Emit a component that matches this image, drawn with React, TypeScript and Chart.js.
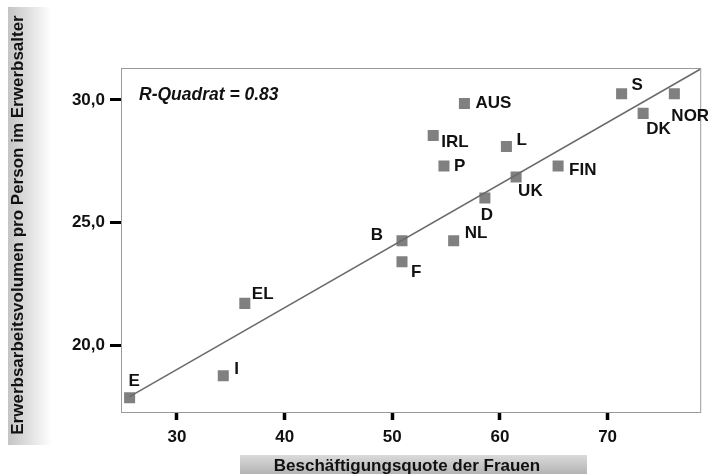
import React, { useEffect, useRef } from "react";
import { Chart, registerables } from "chart.js";

Chart.register(...registerables);

// ---- data ----
const countries = ["E", "I", "EL", "B", "F", "AUS", "IRL", "P", "L", "UK", "D", "NL", "FIN", "S", "DK", "NOR"];
const employmentRateWomen = [25.6, 34.3, 36.3, 50.9, 50.9, 56.7, 53.8, 54.8, 60.6, 61.5, 58.6, 55.7, 65.4, 71.3, 73.3, 76.2];
const workVolumePerPerson = [17.85, 18.75, 21.7, 24.25, 23.4, 29.85, 28.55, 27.3, 28.1, 26.85, 26.0, 24.25, 27.3, 30.25, 29.45, 30.25];
const trendX = [25.6, 78.6];
const trendY = [17.9, 31.25];
const xTickValues = [30, 40, 50, 60, 70];
const yTickValues = [20, 25, 30];
const rSquaredText = "R-Quadrat = 0.83";
const xTitle = "Beschäftigungsquote der Frauen";
const yTitle = "Erwerbsarbeitsvolumen pro Person im Erwerbsalter";

// label placement (dx, dy in px relative to point, text alignment)
const labelPlacement: [number, number, CanvasTextAlign][] = [
  [-1, -16, "left"],
  [11, -6.5, "left"],
  [7, -9, "left"],
  [-19, -6, "right"],
  [9, 11, "left"],
  [11, 0, "left"],
  [8, 7, "left"],
  [10, 0, "left"],
  [10, -6, "left"],
  [2, 14, "left"],
  [2, 17.5, "center"],
  [11, -8, "left"],
  [11, 4, "left"],
  [10, -8, "left"],
  [3, 16, "left"],
  [-3, 23, "left"],
];

const FONT = "'Liberation Sans', Arial, sans-serif";

const decorPlugin = {
  id: "decor",
  beforeDraw(chart: any) {
    const ctx = chart.ctx;
    ctx.save();
    ctx.fillStyle = "#ffffff";
    ctx.fillRect(0, 0, chart.width, chart.height);
    // y title band
    const gy = ctx.createLinearGradient(8, 0, 52, 0);
    gy.addColorStop(0, "#c4c4c4");
    gy.addColorStop(1, "rgba(255,255,255,1)");
    ctx.fillStyle = gy;
    ctx.fillRect(8, 7, 44, 438);
    // x title band
    const gx = ctx.createLinearGradient(0, 455, 0, 474);
    gx.addColorStop(0, "#dadada");
    gx.addColorStop(1, "#b4b4b4");
    ctx.fillStyle = gx;
    ctx.fillRect(240, 455, 347, 19);
    // titles
    ctx.fillStyle = "#111";
    ctx.font = `bold 17px ${FONT}`;
    ctx.textAlign = "center";
    ctx.textBaseline = "middle";
    ctx.fillText(xTitle, 407, 466);
    ctx.translate(18.5, 225);
    ctx.rotate(-Math.PI / 2);
    ctx.fillText(yTitle, 0, 0);
    ctx.restore();
  },
  afterDatasetsDraw(chart: any) {
    const ctx = chart.ctx;
    const a = chart.chartArea;
    ctx.save();
    ctx.strokeStyle = "#9a9a9a";
    ctx.lineWidth = 1;
    ctx.strokeRect(Math.round(a.left) + 0.5, Math.round(a.top) + 0.5, a.right - a.left, a.bottom - a.top);
    ctx.fillStyle = "#111";
    ctx.font = `italic bold 17.5px ${FONT}`;
    ctx.textAlign = "left";
    ctx.textBaseline = "middle";
    ctx.fillText(rSquaredText, 139, 95);
    ctx.font = `bold 17px ${FONT}`;
    const meta = chart.getDatasetMeta(1);
    meta.data.forEach((pt: any, i: number) => {
      const [dx, dy, al] = labelPlacement[i];
      ctx.textAlign = al;
      ctx.fillText(countries[i], pt.x + dx, pt.y + dy);
    });
    ctx.restore();
  },
};

export default function App() {
  const ref = useRef<HTMLCanvasElement>(null);
  useEffect(() => {
    if (!ref.current) return;
    const chart = new Chart(ref.current, {
      type: "scatter",
      data: {
        datasets: [
          {
            type: "line",
            data: trendX.map((x, i) => ({ x, y: trendY[i] })),
            borderColor: "#6a6a6a",
            borderWidth: 1.5,
            pointRadius: 0,
            fill: false,
          } as any,
          {
            data: employmentRateWomen.map((x, i) => ({ x, y: workVolumePerPerson[i] })),
            pointStyle: "rect",
            pointRadius: 7.8,
            pointBorderWidth: 0,
            backgroundColor: "#808080",
            borderColor: "#808080",
          },
        ],
      },
      options: {
        animation: false,
        responsive: true,
        maintainAspectRatio: false,
        layout: { padding: { left: 0, top: 68, right: 7, bottom: 0 } },
        plugins: { legend: { display: false }, tooltip: { enabled: false } },
        scales: {
          x: {
            type: "linear",
            min: 24.8,
            max: 78.6,
            afterFit: (s: any) => { s.height = 62; },
            afterBuildTicks: (s: any) => { s.ticks = xTickValues.map((v) => ({ value: v })); },
            border: { display: false },
            grid: { drawOnChartArea: false, drawTicks: true, tickLength: 8, tickWidth: 3.5, tickColor: "#000" },
            ticks: {
              color: "#111",
              font: { family: FONT, size: 17, weight: "bold" },
              padding: 7,
              maxRotation: 0,
              callback: (v: any) => String(v),
            },
          },
          y: {
            type: "linear",
            min: 17.27,
            max: 31.3,
            afterFit: (s: any) => { s.width = 121; },
            afterBuildTicks: (s: any) => { s.ticks = yTickValues.map((v) => ({ value: v })); },
            border: { display: false },
            grid: { drawOnChartArea: false, drawTicks: true, tickLength: 11, tickWidth: 3, tickColor: "#000" },
            ticks: {
              color: "#111",
              font: { family: FONT, size: 17, weight: "bold" },
              padding: 5,
              callback: (v: any) => Number(v).toFixed(1).replace(".", ","),
            },
          },
        },
      } as any,
      plugins: [decorPlugin],
    });
    return () => chart.destroy();
  }, []);
  return (
    <div style={{ position: "fixed", left: 0, top: 0, width: 708, height: 474, background: "#fff" }}>
      <canvas ref={ref} />
    </div>
  );
}
